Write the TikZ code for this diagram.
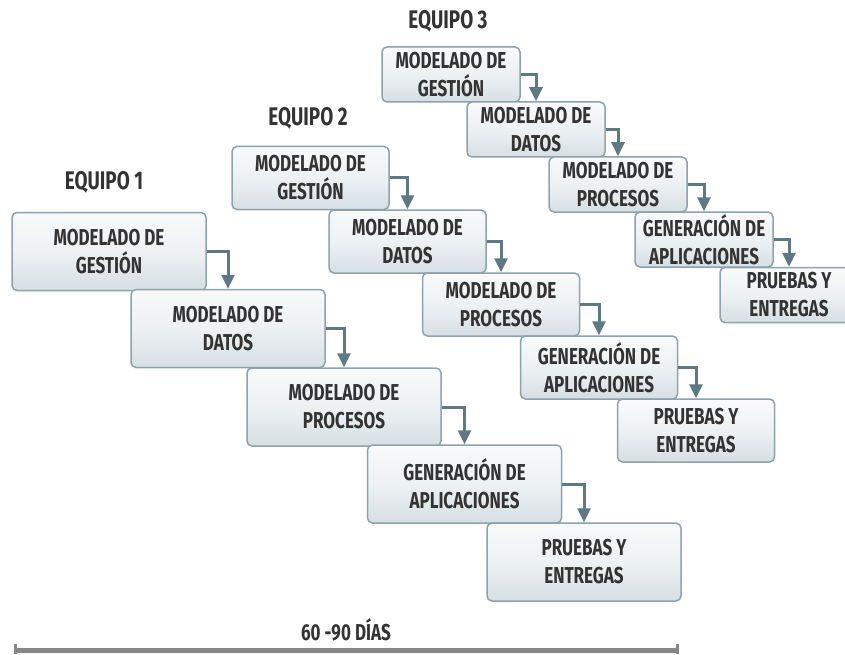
\documentclass[tikz,border=0pt]{standalone}
\usepackage{fontspec}
\newfontfamily\labelfont[FakeStretch=0.74]{Fira Sans}
\usetikzlibrary{arrows.meta}
\definecolor{txt}{HTML}{333333}
\definecolor{edge}{HTML}{8CA3AE}
\definecolor{boxtop}{HTML}{F8FAFB}
\definecolor{boxmid}{HTML}{EDF1F3}
\definecolor{boxbot}{HTML}{D6DFE4}
\definecolor{flow}{HTML}{5E7884}
\definecolor{barc}{HTML}{878787}

\begin{document}
\begin{tikzpicture}[x=1pt,y=-1pt,
  stage/.style={draw=edge, line width=1.5pt, rounded corners=5pt,
    top color=boxtop, bottom color=boxbot, middle color=boxmid,
    text=txt, font=\labelfont\bfseries\fontsize{23}{28}\selectfont,
    align=center, inner sep=0pt},
  big/.style={stage, minimum width=194pt, minimum height=78pt},
  mid/.style={stage, minimum width=157pt, minimum height=63pt},
  small/.style={stage, minimum width=138pt, minimum height=55pt},
  team/.style={text=txt, font=\labelfont\bfseries\fontsize{25.5}{30}\selectfont},
  span/.style={text=txt, font=\labelfont\bfseries\fontsize{23}{28}\selectfont},
  flowarrow/.style={draw=flow, line width=3pt, -{Triangle[width=13pt,length=14pt]}},
]
\path[use as bounding box] (0,0) rectangle (845,655);
\clip (0,0) rectangle (845,655);

% team 1
\node[team] (t1) at (104,182) {EQUIPO 1};
\node[big] (a1) at (109,251.5) {MODELADO DE\\GESTIÓN};
\node[big] (a2) at (228,328.5) {MODELADO DE\\DATOS};
\node[big] (a3) at (344,407) {MODELADO DE\\PROCESOS};
\node[big] (a4) at (464.5,484) {GENERACIÓN DE\\APLICACIONES};
\node[big] (a5) at (584,562) {PRUEBAS Y\\ENTREGAS};

% team 2
\node[team] (t2) at (308,118.5) {EQUIPO 2};
\node[mid] (b1) at (310.5,178) {MODELADO DE\\GESTIÓN};
\node[mid] (b2) at (407.5,241.5) {MODELADO DE\\DATOS};
\node[mid] (b3) at (501,304.5) {MODELADO DE\\PROCESOS};
\node[mid] (b4) at (599,367.5) {GENERACIÓN DE\\APLICACIONES};
\node[mid] (b5) at (696,430.5) {PRUEBAS Y\\ENTREGAS};

% team 3
\node[team] (t3) at (448,21) {EQUIPO 3};
\node[small] (c1) at (451,74.5) {MODELADO DE\\GESTIÓN};
\node[small] (c2) at (536,129.5) {MODELADO DE\\DATOS};
\node[small] (c3) at (618,184.5) {MODELADO DE\\PROCESOS};
\node[small] (c4) at (704,239.5) {GENERACIÓN DE\\APLICACIONES};
\node[small] (c5) at (789,295) {PRUEBAS Y\\ENTREGAS};

% hand-offs between stages
\foreach \t in {a,b,c}{
  \draw[flowarrow] (\t1.east) -| (\t2.north);
  \draw[flowarrow] (\t2.east) -| (\t3.north);
  \draw[flowarrow] (\t3.east) -| (\t4.north);
  \draw[flowarrow] (\t4.east) -| (\t5.north);
}

% time span
\node[span] (days) at (346,630) {60 -90 DÍAS};
\coordinate (barL) at (15,650);
\coordinate (barR) at (677,650);
\draw[barc, line width=5pt] (barL) -- (barR);
\draw[barc, line width=3pt] ([yshift=6pt]barL) -- ([yshift=-4pt]barL);
\draw[barc, line width=3pt] ([yshift=6pt]barR) -- ([yshift=-4pt]barR);
\end{tikzpicture}
\end{document}
